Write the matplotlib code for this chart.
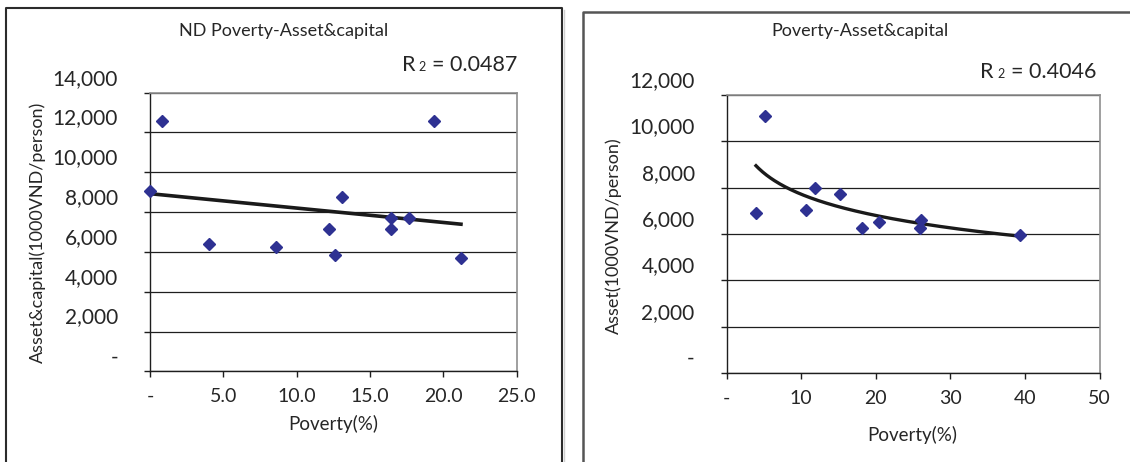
import matplotlib
matplotlib.use('Agg')
import matplotlib.pyplot as plt
import numpy as np
from matplotlib.lines import Line2D
from matplotlib.transforms import ScaledTranslation

plt.rcParams['font.family'] = ['Lato', 'DejaVu Sans']

# Nam Dinh communes: poverty rate (%) and asset & capital (1000 VND/person)
nd_poverty = [0.0, 0.84, 4.02, 8.57, 12.22, 12.63, 13.11, 16.41, 16.41, 17.66, 19.36, 21.2]
nd_asset = [9065, 12555, 6411, 6245, 7135, 5858, 8777, 7689, 7135, 7689, 12555, 5690]

# all provinces: poverty rate (%) and asset (1000 VND/person)
pv_poverty = [3.94, 5.1, 10.6, 11.8, 15.2, 18.1, 20.4, 25.9, 26.1, 39.3]
pv_asset = [6894, 11094, 7036, 7986, 7740, 6272, 6505, 6272, 6604, 5970]

nd_xticks = [0, 5, 10, 15, 20, 25]
nd_xlabels = ['-', '5.0', '10.0', '15.0', '20.0', '25.0']
nd_yticks = [0, 2000, 4000, 6000, 8000, 10000, 12000, 14000]
nd_ylabels = ['-', '2,000', '4,000', '6,000', '8,000', '10,000', '12,000', '14,000']

pv_xticks = [0, 10, 20, 30, 40, 50]
pv_xlabels = ['-', '10', '20', '30', '40', '50']
pv_yticks = [0, 2000, 4000, 6000, 8000, 10000, 12000]
pv_ylabels = ['-', '2,000', '4,000', '6,000', '8,000', '10,000', '12,000']

W, H = 1130, 462
fig = plt.figure(figsize=(W / 100, H / 100), dpi=100)
fig.patch.set_facecolor('white')


def fx(x):
    return x / W


def fy(y):
    return 1 - y / H


def px_axes(left, top, right, bottom):
    return fig.add_axes([fx(left), fy(bottom), (right - left) / W, (bottom - top) / H])


def style(ax, xticks, xlabels, yticks, ylabels):
    ax.set_xlim(xticks[0], xticks[-1])
    ax.set_ylim(yticks[0], yticks[-1])
    ax.set_xticks(xticks)
    ax.set_xticklabels(xlabels)
    ax.set_yticks(yticks)
    ax.set_yticklabels(ylabels)
    ax.yaxis.grid(True, color='#1e1e1e', linewidth=0.9)
    ax.set_axisbelow(True)
    for s in ('top', 'right'):
        ax.spines[s].set_color('#8f8f8f')
        ax.spines[s].set_linewidth(1.2)
    for s in ('left', 'bottom'):
        ax.spines[s].set_color('#1e1e1e')
        ax.spines[s].set_linewidth(1.0)
    ax.tick_params(direction='out', length=4, width=1.0, color='#1e1e1e',
                   labelcolor='#262626')
    ax.tick_params(axis='y', pad=19, labelsize=15)
    ax.tick_params(axis='x', pad=8, labelsize=14)
    # value labels sit a little above their gridlines
    shift = ScaledTranslation(0, 16 / 100, fig.dpi_scale_trans)
    for lab in ax.get_yticklabels():
        lab.set_transform(lab.get_transform() + shift)


marker_kw = dict(marker='D', linestyle='none', markersize=6.5,
                 color='#2e3192', markeredgecolor='#2e3192', zorder=4)

# left panel: linear trend
ax1 = px_axes(150, 92.7, 516.7, 371.3)
style(ax1, nd_xticks, nd_xlabels, nd_yticks, nd_ylabels)
slope, icpt = np.polyfit(nd_poverty, nd_asset, 1)
xl = np.array([min(nd_poverty), max(nd_poverty)])
ax1.plot(xl, slope * xl + icpt, color='#1a1a1a', lw=2.6, zorder=3, clip_on=False)
ax1.plot(nd_poverty, nd_asset, clip_on=False, **marker_kw)

# right panel: logarithmic trend
ax2 = px_axes(726.6, 95, 1099.6, 373)
style(ax2, pv_xticks, pv_xlabels, pv_yticks, pv_ylabels)
b, a = np.polyfit(np.log(pv_poverty), pv_asset, 1)
xc = np.linspace(min(pv_poverty), max(pv_poverty), 200)
ax2.plot(xc, a + b * np.log(xc), color='#1a1a1a', lw=2.4, zorder=3)
ax2.plot(pv_poverty, pv_asset, clip_on=False, **marker_kw)

txt = dict(color='#262626', ha='center', va='center')

fig.text(fx(283.6), fy(31), 'ND Poverty-Asset&capital', fontsize=13, **txt)
fig.text(fx(860), fy(31), 'Poverty-Asset&capital', fontsize=13, **txt)
fig.text(fx(333), fy(424), 'Poverty(%)', fontsize=13.5, **txt)
fig.text(fx(911.8), fy(435), 'Poverty(%)', fontsize=13.5, **txt)
fig.text(fx(38), fy(232), 'Asset&capital(1000VND/person)', fontsize=13,
         rotation=90, **txt)
fig.text(fx(613.8), fy(236), 'Asset(1000VND/person)', fontsize=13,
         rotation=90, **txt)

# R squared annotations with the small "2"
for right, yc, val in [(517.5, 65, '= 0.0487'), (1096, 72.5, '= 0.4046')]:
    t = fig.text(fx(right), fy(yc), val, fontsize=15.5, color='#262626',
                 ha='right', va='center')
    fig.canvas.draw()
    bb = t.get_window_extent()
    x2 = bb.x0 - 6
    fig.text(x2 / W, fy(yc + 2), '2', fontsize=9, color='#262626',
             ha='right', va='center')
    fig.text((x2 - 11) / W, fy(yc), 'R', fontsize=15.5, color='#262626',
             ha='right', va='center')

# panel frames (cut off at the bottom and right)
frame_kw = dict(transform=fig.transFigure, clip_on=False)
fig.add_artist(Line2D([fx(6), fx(6), fx(561.7), fx(561.7)],
                      [fy(470), fy(8.3), fy(8.3), fy(470)],
                      color='#2b2b2b', lw=1.5, **frame_kw))
fig.add_artist(Line2D([fx(563.7), fx(563.7)], [fy(9.5), fy(470)],
                      color='#cfcfcf', lw=1.0, **frame_kw))
fig.add_artist(Line2D([fx(582.7), fx(582.7), fx(1140)],
                      [fy(470), fy(12.3), fy(12.3)],
                      color='#555555', lw=1.8, **frame_kw))

fig.savefig('out.png', dpi=100)
